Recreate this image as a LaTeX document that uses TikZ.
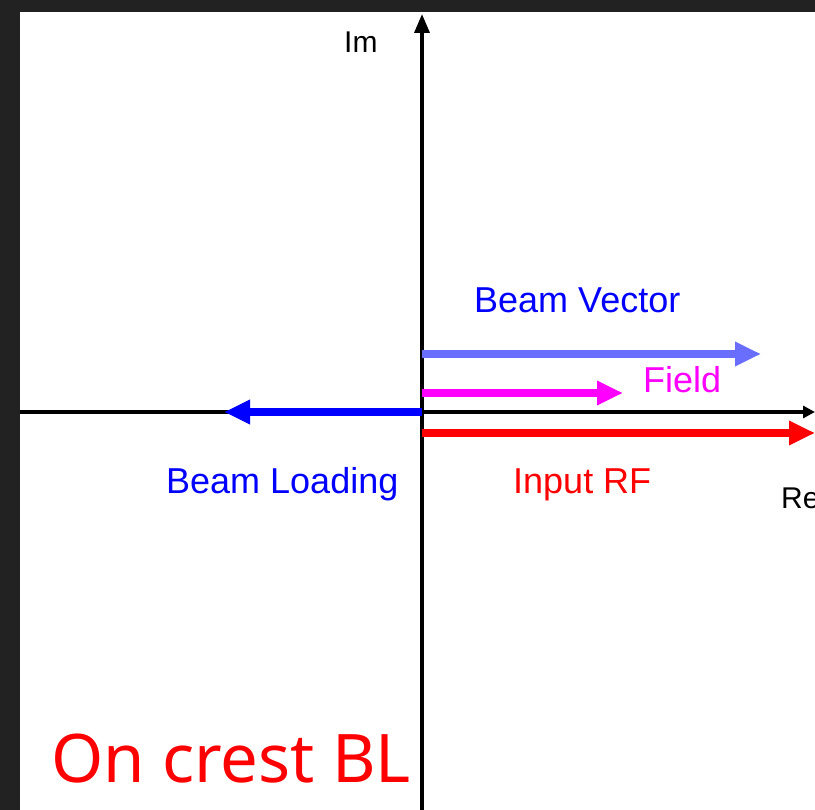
\documentclass[tikz,border=0pt]{standalone}
\usepackage{fontspec}
\setmainfont{Liberation Sans}
\newfontfamily\crestfont{Noto Sans}
\usetikzlibrary{arrows.meta}

\definecolor{frame}{HTML}{222222}
\definecolor{beamvec}{RGB}{105,110,255}
\definecolor{fieldmag}{RGB}{255,0,255}
\definecolor{rfred}{RGB}{255,0,0}
\definecolor{blblue}{RGB}{0,0,255}

\tikzset{
  axis/.style={line width=3.5pt, black},
  phasor/.style={line width=8.5pt, -{Triangle[length=26pt,width=23pt]}},
  lbl/.style={inner sep=0pt, anchor=base west, font=\fontsize{36}{40}\selectfont},
  axlbl/.style={inner sep=0pt, anchor=base west, font=\fontsize{30}{34}\selectfont}
}

\begin{document}
\begin{tikzpicture}[x=1pt, y=-1pt]
  \useasboundingbox (0,0) rectangle (815,810);
  % fons i marc fosc
  \fill[frame] (0,0) rectangle (815,810);
  \fill[white] (20,12) rectangle (815,810);

  % punts
  \coordinate (O)   at (422,412);
  \coordinate (Xl)  at (20,412);
  \coordinate (Xr)  at (815,412);
  \coordinate (Yb)  at (422,810);
  \coordinate (Yt)  at (422,14);
  \coordinate (Bv0) at (422,354);
  \coordinate (Bv1) at (761,354);
  \coordinate (F0)  at (422,393);
  \coordinate (F1)  at (623,393);
  \coordinate (Rf0) at (422,433);
  \coordinate (Rf1) at (815,433);
  \coordinate (Bl1) at (224,412);

  % eixos
  \draw[axis] (Xl) -- (O);
  \draw[axis, -{Triangle[length=12pt,width=12pt]}] (O) -- (Xr);
  \draw[axis, -{Triangle[length=19pt,width=15pt]}] (Yb) -- (Yt);

  % fasors
  \draw[phasor, beamvec, line width=8pt] (Bv0) -- (Bv1);
  \draw[phasor, fieldmag] (F0) -- (F1);
  \draw[phasor, rfred] (Rf0) -- (Rf1);
  \draw[phasor, blblue] (O) -- (Bl1);

  % etiquetes
  \node[axlbl] (im) at (344,53) {Im};
  \node[axlbl] (re) at (781,509) {Re};
  \node[lbl, blblue]   (bvlbl) at (474,313) {Beam Vector};
  \node[lbl, fieldmag] (flbl)  at (643,393) {Field};
  \node[lbl, blblue]   (bllbl) at (166,494) {Beam Loading};
  \node[lbl, rfred]    (rflbl) at (513,494) {Input RF};
  \node[inner sep=0pt, anchor=base west, rfred,
        font=\crestfont\fontsize{67}{70}\selectfont] (title) at (51,782) {On crest BL};
\end{tikzpicture}
\end{document}
